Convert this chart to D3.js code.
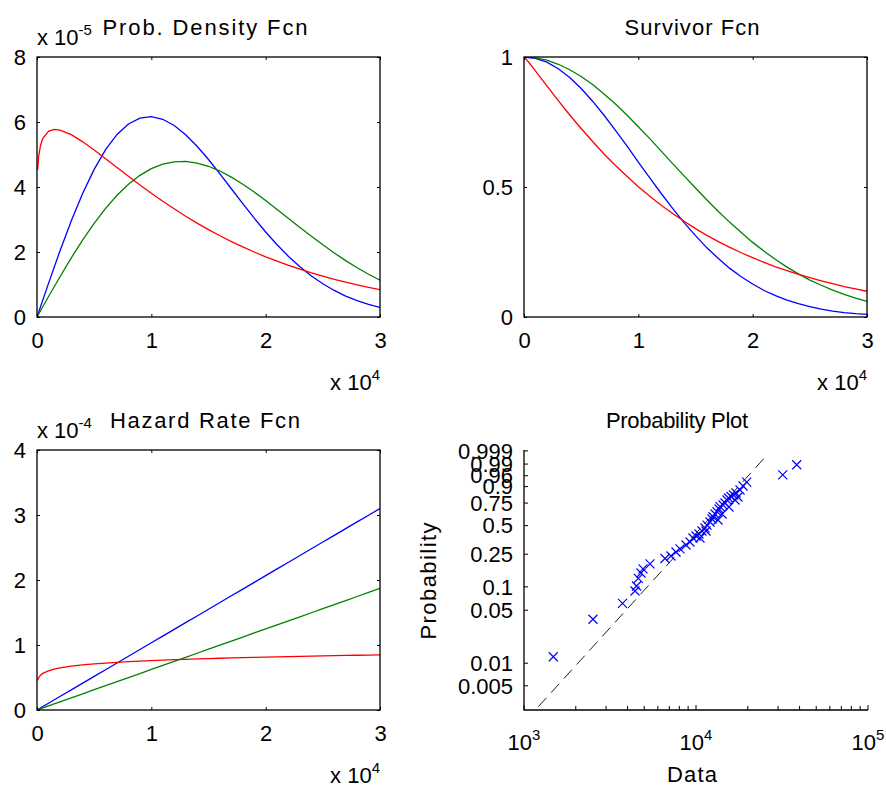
<!DOCTYPE html>
<html>
<head>
<meta charset="utf-8">
<script src="https://cdn.jsdelivr.net/npm/d3@7"></script>
<style>
  body { margin: 0; background: #fff; }
  svg text { font-family: "Liberation Sans", Arial, sans-serif; fill: #000; }
</style>
</head>
<body>
<div id="chart"></div>
<script>
const width = 886;
const height = 789;

// time grid shared by the blue and green curves
const tGrid = [0, 1000, 2000, 3000, 4000, 5000, 6000, 7000, 8000, 9000, 10000,
  11000, 12000, 13000, 14000, 15000, 16000, 17000, 18000, 19000, 20000,
  21000, 22000, 23000, 24000, 25000, 26000, 27000, 28000, 29000, 30000];
// red curve is sampled more finely near zero
const tRed = [60, 150, 300, 500, 1000, 1500, 2000, 3000, 4000, 5000, 6000, 7000,
  8000, 9000, 10000, 11000, 12000, 13000, 14000, 15000, 16000, 17000, 18000,
  19000, 20000, 21000, 22000, 23000, 24000, 25000, 26000, 27000, 28000, 29000, 30000];

// density, in units of 1e-5
const pdfBlue = [0, 1.028, 2.025, 2.96, 3.806, 4.542, 5.149, 5.617, 5.94, 6.121, 6.165,
  6.084, 5.893, 5.61, 5.255, 4.846, 4.405, 3.946, 3.487, 3.04, 2.616,
  2.222, 1.864, 1.544, 1.264, 1.022, 0.817, 0.645, 0.504, 0.388, 0.296];
const pdfGreen = [0, 0.622, 1.232, 1.819, 2.373, 2.884, 3.344, 3.746, 4.086, 4.359, 4.565,
  4.703, 4.776, 4.786, 4.738, 4.638, 4.491, 4.305, 4.087, 3.844, 3.584,
  3.311, 3.034, 2.757, 2.484, 2.221, 1.971, 1.735, 1.515, 1.314, 1.131];
const pdfRed = [4.54, 4.96, 5.27, 5.49, 5.71, 5.77, 5.75, 5.61, 5.39, 5.14, 4.87, 4.6,
  4.33, 4.06, 3.81, 3.56, 3.33, 3.1, 2.89, 2.69, 2.5, 2.32, 2.16,
  2.0, 1.85, 1.72, 1.59, 1.47, 1.36, 1.26, 1.16, 1.07, 0.99, 0.91, 0.84];

// survivor function
const survBlue = [1, 0.995, 0.98, 0.955, 0.921, 0.879, 0.83, 0.776, 0.718, 0.658, 0.596,
  0.535, 0.475, 0.418, 0.363, 0.313, 0.266, 0.225, 0.187, 0.155, 0.127,
  0.102, 0.082, 0.065, 0.051, 0.04, 0.03, 0.023, 0.017, 0.013, 0.01];
const survGreen = [1, 0.997, 0.988, 0.972, 0.951, 0.925, 0.894, 0.858, 0.819, 0.777, 0.732,
  0.686, 0.638, 0.59, 0.543, 0.496, 0.45, 0.406, 0.364, 0.325, 0.287,
  0.253, 0.221, 0.192, 0.166, 0.142, 0.122, 0.103, 0.087, 0.073, 0.06];
const survRed = [0.998, 0.993, 0.986, 0.975, 0.947, 0.918, 0.889, 0.832, 0.777, 0.725, 0.675, 0.627,
  0.583, 0.541, 0.501, 0.464, 0.43, 0.398, 0.368, 0.34, 0.314, 0.29, 0.268,
  0.247, 0.228, 0.21, 0.193, 0.178, 0.164, 0.151, 0.139, 0.128, 0.117, 0.108, 0.099];

// hazard rate, in units of 1e-4
const hazBlue = [0, 0.103, 0.207, 0.31, 0.413, 0.517, 0.62, 0.724, 0.827, 0.93, 1.034,
  1.137, 1.24, 1.344, 1.447, 1.55, 1.654, 1.757, 1.86, 1.964, 2.067,
  2.171, 2.274, 2.377, 2.481, 2.584, 2.687, 2.791, 2.894, 2.997, 3.101];
const hazGreen = [0, 0.062, 0.125, 0.187, 0.249, 0.312, 0.374, 0.436, 0.499, 0.561, 0.624,
  0.686, 0.748, 0.811, 0.873, 0.935, 0.998, 1.06, 1.122, 1.185, 1.247,
  1.309, 1.372, 1.434, 1.496, 1.559, 1.621, 1.683, 1.746, 1.808, 1.871];
const hazRed = [0.456, 0.499, 0.535, 0.563, 0.603, 0.628, 0.647, 0.674, 0.693, 0.709, 0.722, 0.733,
  0.743, 0.752, 0.76, 0.767, 0.774, 0.78, 0.786, 0.791, 0.796, 0.801, 0.806,
  0.81, 0.814, 0.818, 0.822, 0.826, 0.829, 0.833, 0.836, 0.839, 0.842, 0.845, 0.848];

// probability plot: sample values and their plotting positions
const probX = [1480, 2518, 3738, 4419, 4510, 4620, 4789, 4919, 5403, 6604,
  7156, 7650, 8072, 8747, 9228, 9607, 10000, 10409, 10550, 10836,
  11280, 11430, 11588, 12063, 12392, 12560, 12900, 13250, 13430, 13610,
  13790, 14170, 14360, 14740, 15140, 15450, 15550, 15980, 16520, 16860,
  17090, 17550, 18030, 18770, 19720, 31930, 38510];
const probP = [0.0122, 0.0381, 0.0615, 0.0885, 0.1025, 0.128, 0.149, 0.167, 0.192, 0.223,
  0.238, 0.265, 0.287, 0.317, 0.342, 0.377, 0.396, 0.415, 0.377, 0.444,
  0.475, 0.444, 0.506, 0.539, 0.572, 0.598, 0.629, 0.655, 0.561, 0.685,
  0.711, 0.629, 0.729, 0.751, 0.782, 0.802, 0.707, 0.817, 0.831, 0.782,
  0.849, 0.812, 0.874, 0.904, 0.929, 0.963, 0.989];
const fitX = [1211, 25200];
const fitP = [0.00263, 0.99656];

const probTicks = [0.005, 0.01, 0.05, 0.1, 0.25, 0.5, 0.75, 0.9, 0.96, 0.99, 0.999];
const probTickLabels = ["0.005", "0.01", "0.05", "0.1", "0.25", "0.5", "0.75", "0.9", "0.96", "0.99", "0.999"];
const timeTicks = [0, 10000, 20000, 30000];

const blue = "#0000ff";
const green = "#008000";
const red = "#ff0000";

const boxW = 343;
const boxH = 260;
const cols = [37, 524];
const rows = [57, 450];
const fontSize = 22;

const svg = d3
  .select("#chart")
  .append("svg")
  .attr("width", width)
  .attr("height", height);

const zip = (xs, ys) => xs.map((x, i) => [x, ys[i]]);

const addExponent = (g, x, y, base, sup, anchor) => {
  const t = g
    .append("text")
    .attr("x", x)
    .attr("y", y)
    .attr("font-size", fontSize)
    .attr("text-anchor", anchor)
    .text(base);
  t.append("tspan").attr("dy", -10).attr("font-size", 15).text(sup);
};

const drawLinearPanel = (opts) => {
  const { left, top, yMax, yTicks, yFormat, series, title, titleX, titleLen, yExp } = opts;
  const g = svg.append("g");

  const x = d3.scaleLinear().domain([0, 30000]).range([left, left + boxW]);
  const y = d3.scaleLinear().domain([0, yMax]).range([top + boxH, top]);

  const clipId = `clip-${left}-${top}`;
  g.append("clipPath")
    .attr("id", clipId)
    .append("rect")
    .attr("x", left)
    .attr("y", top)
    .attr("width", boxW)
    .attr("height", boxH);

  const line = d3
    .line()
    .x((d) => x(d[0]))
    .y((d) => y(d[1]));

  g.append("g")
    .attr("clip-path", `url(#${clipId})`)
    .selectAll("path")
    .data(series)
    .join("path")
    .attr("fill", "none")
    .attr("stroke", (d) => d.color)
    .attr("stroke-width", 1.3)
    .attr("d", (d) => line(zip(d.x, d.y)));

  const clean = (a) => a.call((s) => s.select(".domain").remove()).attr("font-size", fontSize).attr("font-family", null);

  g.append("g")
    .attr("transform", `translate(0,${top + boxH})`)
    .call(d3.axisBottom(x).tickValues(timeTicks).tickSize(-3).tickPadding(15).tickFormat((d) => d / 1e4))
    .call(clean);
  g.append("g")
    .attr("transform", `translate(0,${top})`)
    .call(d3.axisTop(x).tickValues(timeTicks).tickSize(-3).tickFormat(""))
    .call(clean);
  g.append("g")
    .attr("transform", `translate(${left},0)`)
    .call(d3.axisLeft(y).tickValues(yTicks).tickSize(-3).tickPadding(11).tickFormat(yFormat))
    .call(clean);
  g.append("g")
    .attr("transform", `translate(${left + boxW},0)`)
    .call(d3.axisRight(y).tickValues(yTicks).tickSize(-3).tickFormat(""))
    .call(clean);

  g.append("rect")
    .attr("x", left)
    .attr("y", top)
    .attr("width", boxW)
    .attr("height", boxH)
    .attr("fill", "none")
    .attr("stroke", "#000")
    .attr("stroke-width", 1.3);

  g.append("text")
    .attr("x", titleX)
    .attr("y", top - 22)
    .attr("font-size", fontSize)
    .attr("text-anchor", "middle")
    .attr("textLength", titleLen)
    .attr("lengthAdjust", "spacing")
    .text(title);

  if (yExp) addExponent(g, left, top - 12, "x 10", yExp, "start");
  addExponent(g, left + boxW, top + boxH + 73, "x 10", "4", "end");
};

drawLinearPanel({
  left: cols[0],
  top: rows[0],
  yMax: 8,
  yTicks: [0, 2, 4, 6, 8],
  yFormat: (d) => d,
  title: "Prob. Density Fcn",
  titleX: 205,
  titleLen: 205,
  yExp: "-5",
  series: [
    { x: tGrid, y: pdfBlue, color: blue },
    { x: tGrid, y: pdfGreen, color: green },
    { x: tRed, y: pdfRed, color: red },
  ],
});

drawLinearPanel({
  left: cols[1],
  top: rows[0],
  yMax: 1,
  yTicks: [0, 0.5, 1],
  yFormat: (d) => d,
  title: "Survivor Fcn",
  titleX: 692,
  titleLen: 135,
  yExp: null,
  series: [
    { x: tGrid, y: survBlue, color: blue },
    { x: tGrid, y: survGreen, color: green },
    { x: tRed, y: survRed, color: red },
  ],
});

drawLinearPanel({
  left: cols[0],
  top: rows[1],
  yMax: 4,
  yTicks: [0, 1, 2, 3, 4],
  yFormat: (d) => d,
  title: "Hazard Rate Fcn",
  titleX: 205,
  titleLen: 190,
  yExp: "-4",
  series: [
    { x: tGrid, y: hazBlue, color: blue },
    { x: tGrid, y: hazGreen, color: green },
    { x: tRed, y: hazRed, color: red },
  ],
});

// probability plot on weibull paper
const drawProbPanel = () => {
  const left = cols[1];
  const top = rows[1];
  const g = svg.append("g");

  const wb = (p) => Math.log(-Math.log(1 - p));
  const x = d3.scaleLog().domain([1e3, 1e5]).range([left, left + boxW + 1]);
  const y = d3.scaleLinear().domain([-6.04, 1.96]).range([top + boxH, top]);

  // axis lines
  g.append("path")
    .attr("d", `M${left},${top}V${top + boxH}H${left + boxW + 1}`)
    .attr("fill", "none")
    .attr("stroke", "#000")
    .attr("stroke-width", 1.3);

  // y ticks on probability scale
  const yt = g
    .selectAll(".ytick")
    .data(probTicks)
    .join("g")
    .attr("class", "ytick")
    .attr("transform", (d) => `translate(${left},${y(wb(d))})`);
  yt.append("line").attr("x2", 4).attr("stroke", "#000");
  yt.append("text")
    .attr("x", -11)
    .attr("dy", "0.35em")
    .attr("font-size", fontSize)
    .attr("text-anchor", "end")
    .text((d, i) => probTickLabels[i]);

  // x ticks, major at decades, minor in between
  const decades = [1e3, 1e4, 1e5];
  g.selectAll(".xtick")
    .data(x.ticks())
    .join("line")
    .attr("class", "xtick")
    .attr("x1", (d) => x(d))
    .attr("x2", (d) => x(d))
    .attr("y1", top + boxH)
    .attr("y2", (d) => top + boxH - (decades.includes(d) ? 5 : 4))
    .attr("stroke", "#000");

  decades.forEach((d) => {
    addExponent(g, x(d), top + boxH + 40, "10", String(Math.round(Math.log10(d))), "middle");
  });

  // fitted reference line
  g.append("path")
    .attr("d", d3.line().x((d) => x(d[0])).y((d) => y(wb(d[1])))(zip(fitX, fitP)))
    .attr("fill", "none")
    .attr("stroke", "#222")
    .attr("stroke-width", 1)
    .attr("stroke-dasharray", "12,7");

  const s = 4.5;
  g.selectAll(".pt")
    .data(zip(probX, probP))
    .join("path")
    .attr("class", "pt")
    .attr("transform", (d) => `translate(${x(d[0])},${y(wb(d[1]))})`)
    .attr("d", `M${-s},${-s}L${s},${s}M${-s},${s}L${s},${-s}`)
    .attr("stroke", blue)
    .attr("stroke-width", 1.2)
    .attr("fill", "none");

  g.append("text")
    .attr("x", 677)
    .attr("y", top - 22)
    .attr("font-size", fontSize)
    .attr("text-anchor", "middle")
    .attr("textLength", 142)
    .attr("lengthAdjust", "spacing")
    .text("Probability Plot");

  g.append("text")
    .attr("transform", `translate(436,581) rotate(-90)`)
    .attr("font-size", fontSize)
    .attr("text-anchor", "middle")
    .attr("textLength", 117)
    .attr("lengthAdjust", "spacing")
    .text("Probability");

  g.append("text")
    .attr("x", 692)
    .attr("y", 782)
    .attr("font-size", fontSize)
    .attr("text-anchor", "middle")
    .attr("textLength", 50)
    .attr("lengthAdjust", "spacing")
    .text("Data");
};

drawProbPanel();
</script>
</body>
</html>
